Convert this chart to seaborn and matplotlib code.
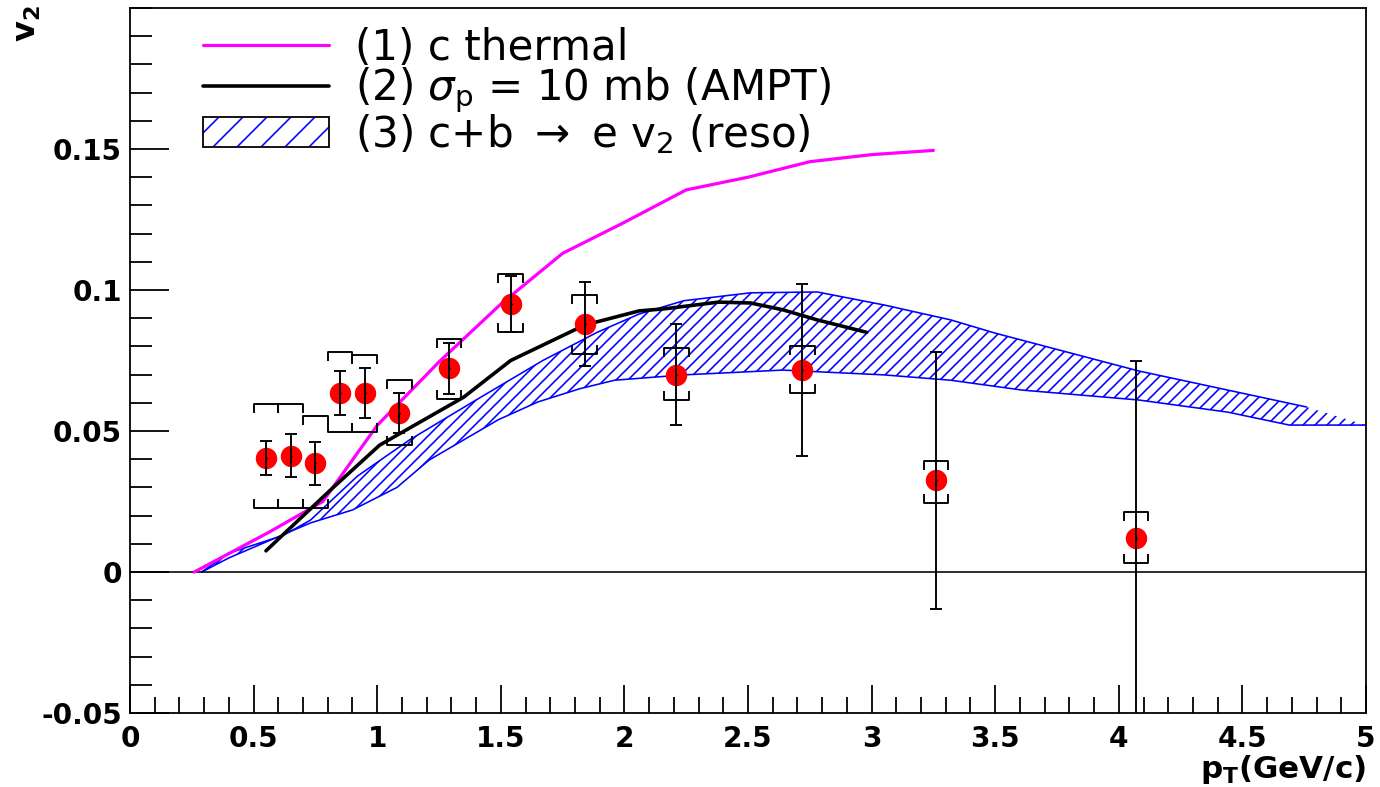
import numpy as np
import matplotlib
matplotlib.use("Agg")
import matplotlib.pyplot as plt
import seaborn as sns
from matplotlib.lines import Line2D
from matplotlib.patches import Patch
from matplotlib.collections import LineCollection

# ---------------- data ----------------
# measured electron v2
pt = [0.55, 0.65, 0.75, 0.85, 0.95, 1.09, 1.29, 1.54, 1.84, 2.21, 2.72, 3.26, 4.07]
v2 = [0.0405, 0.0413, 0.0385, 0.0635, 0.0635, 0.0563, 0.0722, 0.0950, 0.0880,
      0.0700, 0.0715, 0.0325, 0.0120]
stat = [0.0060, 0.0075, 0.0075, 0.0078, 0.0088, 0.0070, 0.0090, 0.0100, 0.0150,
        0.0180, 0.0305, 0.0455, 0.0630]
sys_hi = [0.0595, 0.0595, 0.0553, 0.0780, 0.0770, 0.0680, 0.0826, 0.1057, 0.0982,
          0.0794, 0.0800, 0.0395, 0.0213]
sys_lo = [0.0227, 0.0227, 0.0227, 0.0496, 0.0496, 0.0450, 0.0613, 0.0850, 0.0773,
          0.0610, 0.0635, 0.0245, 0.0032]

# (1) c thermal
therm_x = [0.26, 0.56, 0.78, 1.0, 1.25, 1.5, 1.75, 2.0, 2.25, 2.5, 2.75, 3.0, 3.25]
therm_y = [0.0, 0.014, 0.025, 0.052, 0.0745, 0.095, 0.113, 0.124, 0.1355, 0.140,
           0.1455, 0.148, 0.1495]

# (2) AMPT
ampt_x = [0.55, 0.81, 1.01, 1.21, 1.35, 1.54, 1.84, 2.06, 2.16, 2.38, 2.51, 2.64,
          2.78, 2.98]
ampt_y = [0.0075, 0.029, 0.045, 0.055, 0.062, 0.075, 0.0876, 0.0926, 0.0933,
          0.0957, 0.0954, 0.093, 0.0894, 0.085]

# (3) c+b -> e v2 band
band_up_x = [0.29, 0.40, 0.62, 0.73, 0.92, 1.13, 1.40, 1.67, 1.89, 2.06, 2.24,
             2.51, 2.78, 3.05, 3.32, 3.50, 4.08, 4.76]
band_up_y = [0.0, 0.0067, 0.013, 0.0184, 0.034, 0.0468, 0.061, 0.075, 0.085,
             0.0915, 0.0962, 0.099, 0.0993, 0.0947, 0.0894, 0.0847, 0.0713, 0.0585]
band_lo_x = [0.29, 0.40, 0.73, 0.90, 1.08, 1.21, 1.49, 1.65, 1.82, 1.96, 2.24,
             2.64, 3.05, 3.32, 3.61, 4.08, 4.44, 4.69, 5.0]
band_lo_y = [0.0, 0.005, 0.0174, 0.022, 0.030, 0.0397, 0.054, 0.0603, 0.065,
             0.068, 0.0699, 0.0716, 0.0699, 0.068, 0.0645, 0.061, 0.0567, 0.0521,
             0.0521]

xticks = [0, 0.5, 1, 1.5, 2, 2.5, 3, 3.5, 4, 4.5, 5]
xticklabels = ["0", "0.5", "1", "1.5", "2", "2.5", "3", "3.5", "4", "4.5", "5"]
yticks = [-0.05, 0, 0.05, 0.1, 0.15]
yticklabels = ["-0.05", "0", "0.05", "0.1", "0.15"]

labels = ["(1) c thermal",
          r"(2) $\sigma_{\mathrm{p}}$ = 10 mb (AMPT)",
          r"(3) c+b $\rightarrow$ e v$_{2}$ (reso)"]

# ---------------- style ----------------
sns.set_theme(style="white")
plt.rcParams["font.family"] = ["DejaVu Sans"]
plt.rcParams["mathtext.fontset"] = "dejavusans"
plt.rcParams["hatch.linewidth"] = 0.8
for k in ["text.color", "axes.labelcolor", "xtick.color", "ytick.color",
          "axes.edgecolor"]:
    plt.rcParams[k] = "black"

DPI = 144
fig = plt.figure(figsize=(1380 / DPI, 787 / DPI), dpi=DPI)
ax = fig.add_axes([130 / 1380, 1 - 713 / 787, (1366 - 130) / 1380, (713 - 8) / 787])

# band
poly_x = np.concatenate([band_up_x, band_lo_x[::-1]])
poly_y = np.concatenate([band_up_y, band_lo_y[::-1]])
ax.fill(poly_x, poly_y, facecolor="none", edgecolor="blue", hatch="////",
        linewidth=0, zorder=1)
sns.lineplot(x=band_up_x, y=band_up_y, sort=False, estimator=None, color="blue",
             lw=0.8, ax=ax, zorder=2)
sns.lineplot(x=band_lo_x, y=band_lo_y, sort=False, estimator=None, color="blue",
             lw=0.8, ax=ax, zorder=2)

# curves
sns.lineplot(x=therm_x, y=therm_y, sort=False, estimator=None, color="#ff00ff",
             lw=1.6, ax=ax, zorder=3)
sns.lineplot(x=ampt_x, y=ampt_y, sort=False, estimator=None, color="black",
             lw=1.8, ax=ax, zorder=3)

ax.axhline(0, color="black", lw=0.8, zorder=2)

# data points
sns.scatterplot(x=pt, y=v2, color="red", edgecolor="red", s=115, marker="o",
                ax=ax, zorder=5, linewidth=0)
ax.errorbar(pt, v2, yerr=stat, fmt="none", ecolor="black", elinewidth=0.95,
            capsize=3, capthick=0.95, zorder=6)
ax.scatter(pt, v2, s=1.5, color="black", zorder=7, linewidths=0)

# systematic brackets
w = 0.05
t = 0.0032
segs = []
for x, hi, lo in zip(pt, sys_hi, sys_lo):
    segs.append([(x - w, hi - t), (x - w, hi), (x + w, hi), (x + w, hi - t)])
    segs.append([(x - w, lo + t), (x - w, lo), (x + w, lo), (x + w, lo + t)])
ax.add_collection(LineCollection(segs, colors="black", linewidths=0.95, zorder=6))

# axes
ax.set_xlim(0, 5)
ax.set_ylim(-0.05, 0.2)
ax.set_xticks(xticks)
ax.set_xticklabels(xticklabels)
ax.set_yticks(yticks)
ax.set_yticklabels(yticklabels)
ax.xaxis.set_minor_locator(matplotlib.ticker.MultipleLocator(0.1))
ax.yaxis.set_minor_locator(matplotlib.ticker.MultipleLocator(0.01))
ax.tick_params(axis="x", which="major", direction="in", length=14, width=0.9,
               labelsize=14, pad=6, bottom=True, top=False)
ax.tick_params(axis="x", which="minor", direction="in", length=8, width=0.9,
               bottom=True, top=False)
ax.tick_params(axis="y", which="major", direction="in", length=19.5, width=0.9,
               labelsize=14, pad=4, left=True, right=False)
ax.tick_params(axis="y", which="minor", direction="in", length=11, width=0.9,
               left=True, right=False)
for lab in ax.get_xticklabels() + ax.get_yticklabels():
    lab.set_fontweight("bold")
for sp in ax.spines.values():
    sp.set_color("black")
    sp.set_linewidth(0.9)

fig.text(1366 / 1380, 9 / 787, r"$\mathbf{p_{T}}$(GeV/c)", fontsize=15.5,
         fontweight="bold", ha="right", va="baseline")
fig.text(28 / 1380, 1 - 24 / 787, r"$\mathbf{v_{2}}$", fontsize=16,
         fontweight="bold", rotation=90, ha="center", va="center")

handles = [Line2D([], [], color="#ff00ff", lw=1.6),
           Line2D([], [], color="black", lw=1.8),
           (Patch(facecolor="white", edgecolor="blue", hatch="//", lw=0),
            Patch(facecolor="none", edgecolor="black", lw=0.9))]
ax.legend(handles, labels, loc="upper left", bbox_to_anchor=(0.059, 0.973),
          frameon=False, fontsize=21, handlelength=3.0, handletextpad=0.62,
          labelspacing=-0.08, borderpad=0, borderaxespad=0)

fig.savefig("out.png", dpi=DPI)
